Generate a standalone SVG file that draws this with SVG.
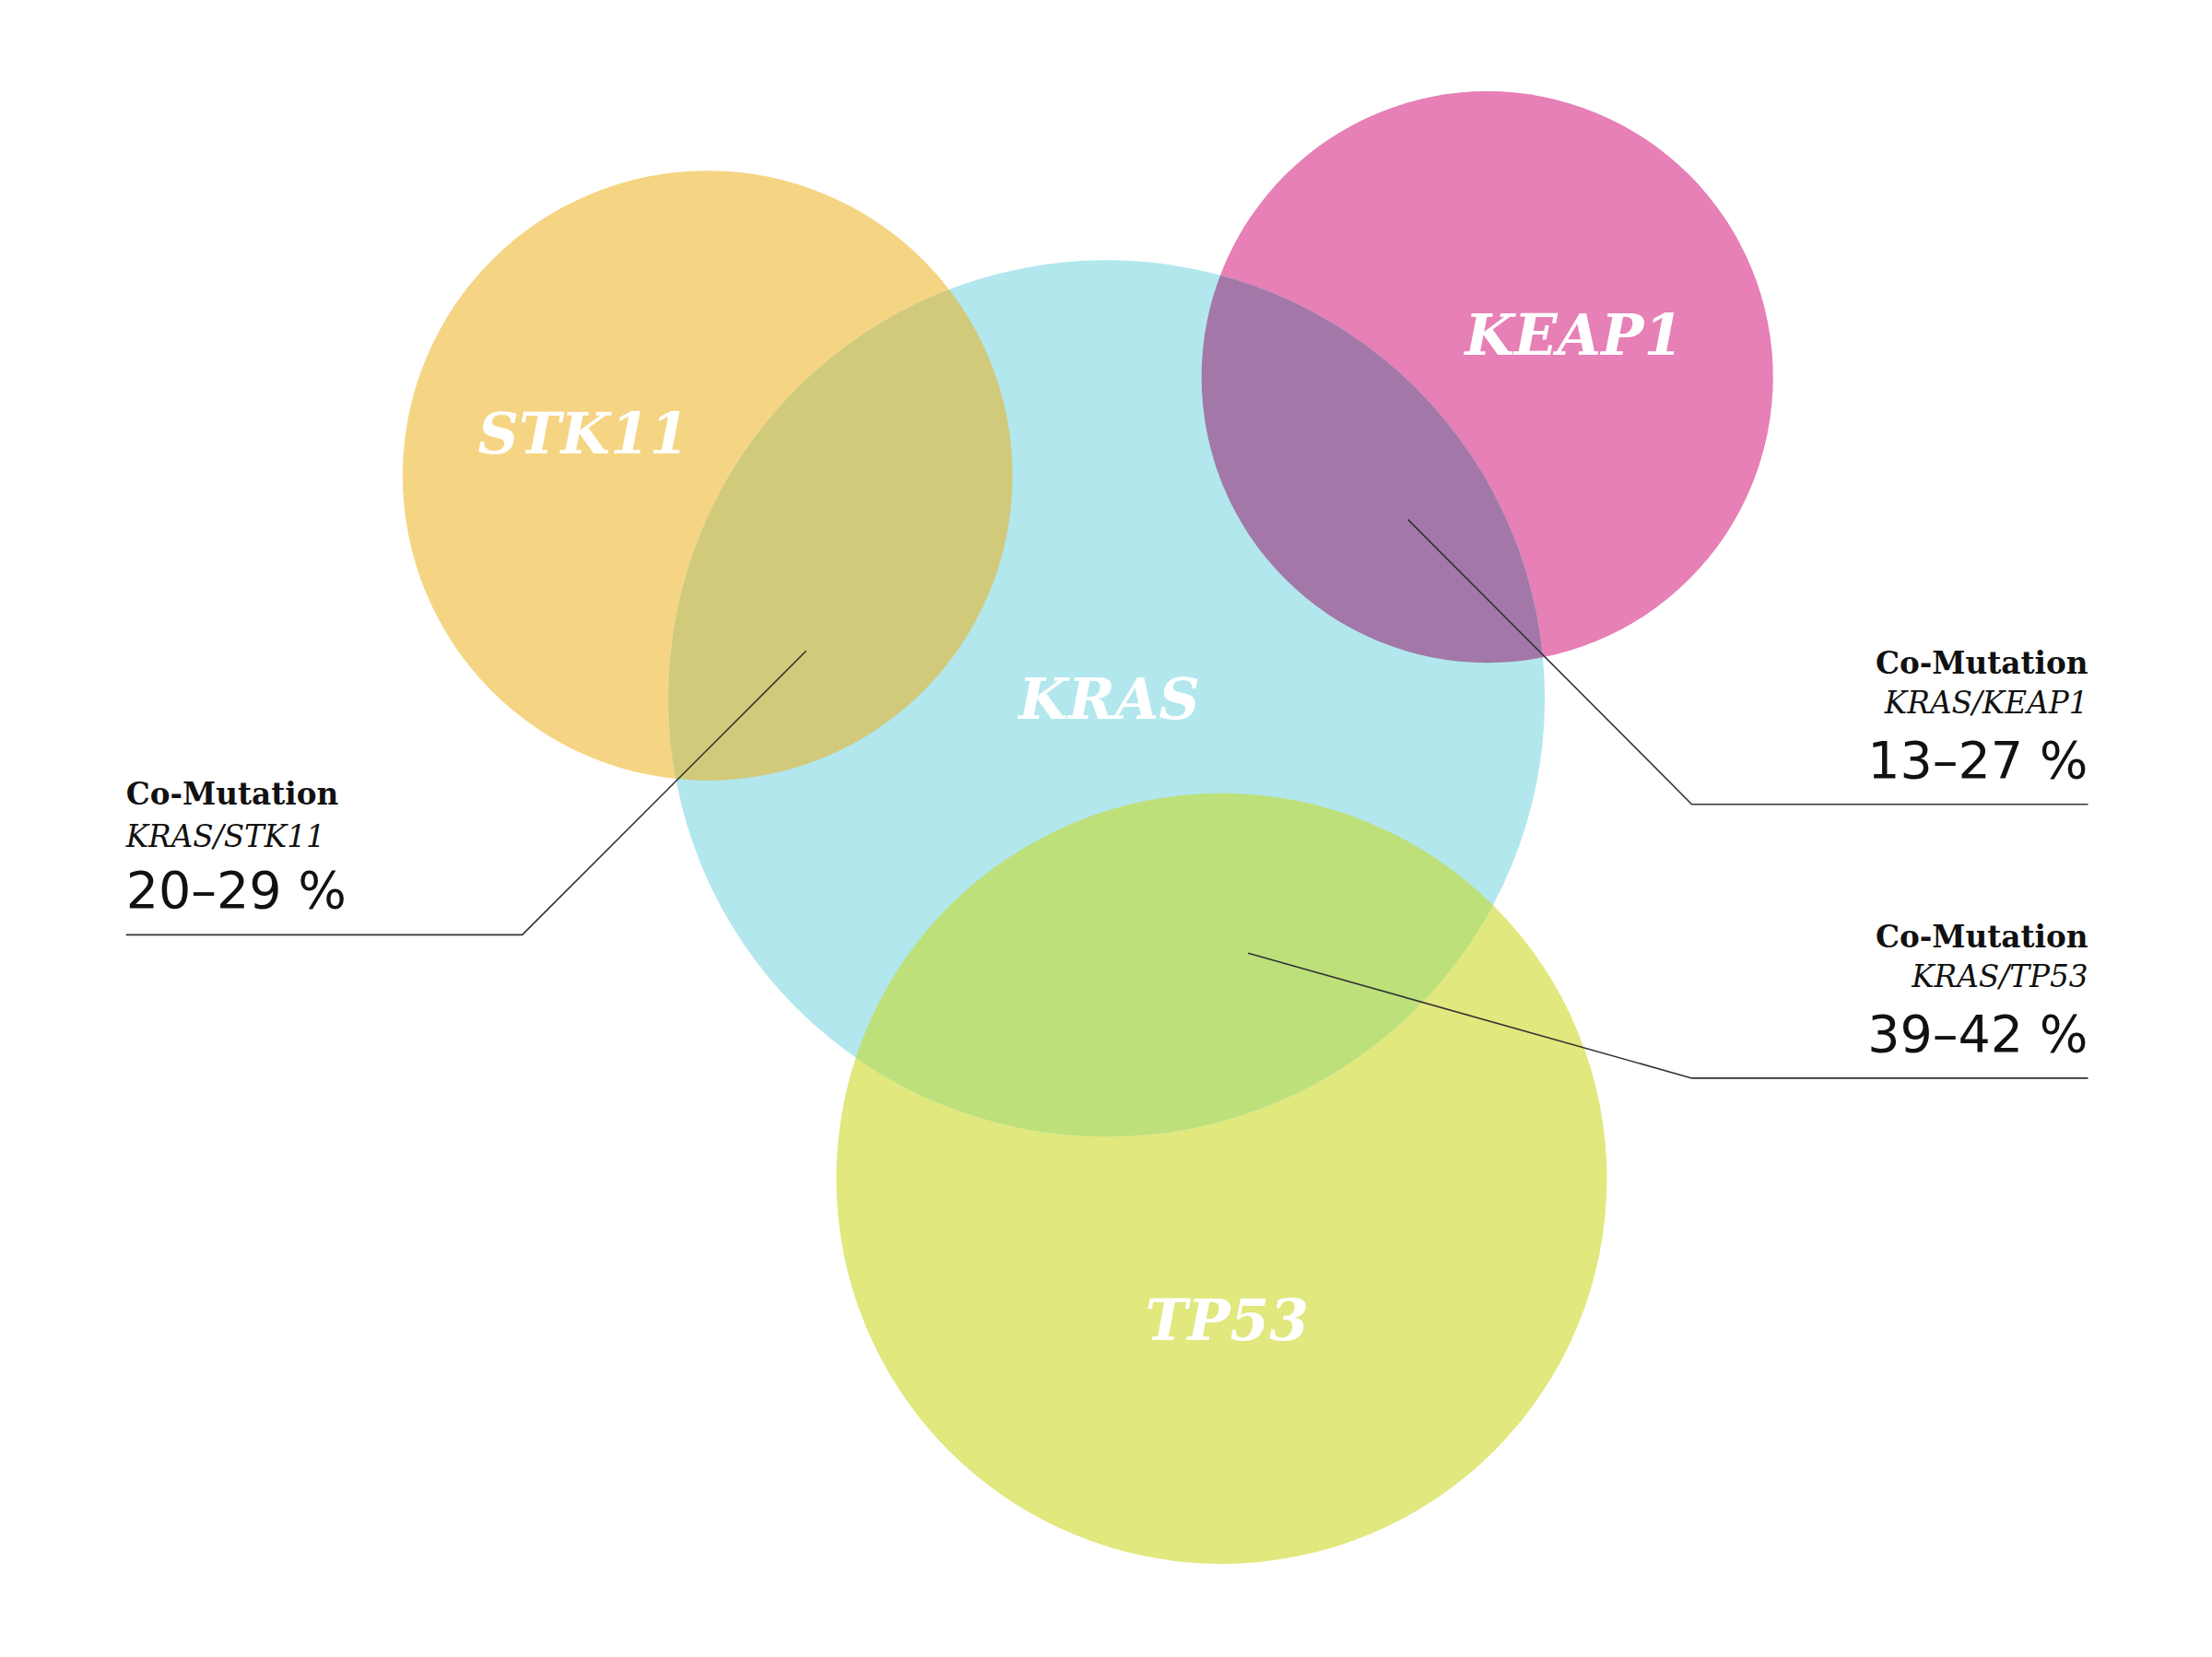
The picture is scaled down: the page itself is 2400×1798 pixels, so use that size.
<svg xmlns="http://www.w3.org/2000/svg" width="2400" height="1798" viewBox="0 0 2400 1798">
<style>
.lbl{font-family:"DejaVu Serif",serif;font-weight:bold;font-style:italic;font-size:62px;fill:#fff;text-anchor:middle}
.h{font-family:"DejaVu Serif","Liberation Serif",serif;font-weight:bold;font-size:33px;fill:#111}
.g{font-family:"DejaVu Serif","Liberation Serif",serif;font-style:italic;font-size:33px;fill:#111}
.p{font-family:"DejaVu Sans","Liberation Sans",sans-serif;font-size:56px;fill:#111}
.r{text-anchor:end}
.ln{fill:none;stroke:#333;stroke-width:1.6}
</style>
<defs>
<clipPath id="cK"><circle cx="1212" cy="765" r="480"/></clipPath>
</defs>
<rect width="2400" height="1798" fill="#fff"/>
<g transform="scale(0.9906)">
<g id="STK11"><circle cx="775" cy="521" r="334" fill="#f5d583"/></g>
<g id="KEAP1"><circle cx="1629" cy="413" r="313" fill="#e680b6"/></g>
<g id="TP53"><circle cx="1338" cy="1291" r="422" fill="#e0e87e"/></g>
<g id="KRAS"><circle cx="1212" cy="765" r="480" fill="#b2e7ed"/>
<g clip-path="url(#cK)">
<circle cx="775" cy="521" r="334" fill="#d1ca7a"/>
<circle cx="1629" cy="413" r="313" fill="#a378a8"/>
<circle cx="1338" cy="1291" r="422" fill="#bde07a"/>
</g></g>
<g id="labels">
<text class="lbl" x="639" y="497">STK11</text>
<text class="lbl" x="1724" y="389">KEAP1</text>
<text class="lbl" x="1215" y="787">KRAS</text>
<text class="lbl" x="1344" y="1468">TP53</text>
</g>
<g id="connectors">
<polyline class="ln" points="883,713 572,1024 138,1024"/>
<polyline class="ln" points="1542,569 1853,881 2287,881"/>
<polyline class="ln" points="1367,1044 1853,1181 2287,1181"/>
</g>
<g id="note-stk11">
<text class="h" x="138" y="881">Co-Mutation</text>
<text class="g" x="138" y="928">KRAS/STK11</text>
<text class="p" x="138" y="994">20–29 %</text>
</g>
<g id="note-keap1">
<text class="h r" x="2287" y="738">Co-Mutation</text>
<text class="g r" x="2287" y="781">KRAS/KEAP1</text>
<text class="p r" x="2287" y="852">13–27 %</text>
</g>
<g id="note-tp53">
<text class="h r" x="2287" y="1038">Co-Mutation</text>
<text class="g r" x="2287" y="1081">KRAS/TP53</text>
<text class="p r" x="2287" y="1152">39–42 %</text>
</g>
</g>
</svg>
